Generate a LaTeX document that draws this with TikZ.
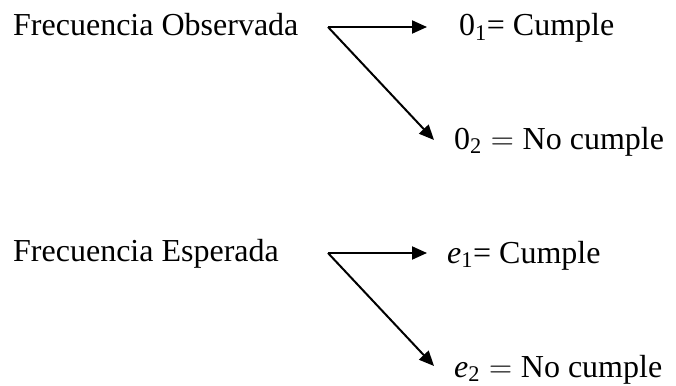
\RequirePackage{fix-cm}
\documentclass[tikz,border=0pt]{standalone}
\usepackage{amsmath}
\usepackage{fontspec}
\setmainfont{Liberation Serif}
\usetikzlibrary{arrows.meta}

\tikzset{
  lbl/.style={anchor=base west,inner sep=0pt,font=\fontsize{32}{38}\selectfont},
  branch/.style={line width=2pt,-{Triangle[length=15pt,width=13pt]}}
}

\begin{document}
\begin{tikzpicture}[x=1pt,y=-1pt]
    \useasboundingbox (0,0) rectangle (676,385);
    % observed frequencies
    \node[lbl] (obs) at (13,36) {Frecuencia Observada};
    \node[lbl] (obsone) at (459,36) {$\text{0}_\text{1}$= Cumple};
    \node[lbl] (obstwo) at (454,149) {$\text{0}_\text{2} = \text{No cumple}$};
    \coordinate (obsfork) at (328,27);
    \coordinate (obsup) at (427,27);
    \coordinate (obsdown) at (434,140);
    \draw[branch] (obsfork) -- (obsup);
    \draw[branch] (obsfork) -- (obsdown);
    % expected frequencies
    \node[lbl] (esp) at (13,261.5) {Frecuencia Esperada};
    \node[lbl] (espone) at (447,263) {$\textit{e}_\text{1}$= Cumple};
    \node[lbl] (esptwo) at (454,377) {$\textit{e}_\text{2} = \text{No cumple}$};
    \coordinate (espfork) at (328,253);
    \coordinate (espup) at (427,253);
    \coordinate (espdown) at (434,366);
    \draw[branch] (espfork) -- (espup);
    \draw[branch] (espfork) -- (espdown);
  \end{tikzpicture}
\end{document}
